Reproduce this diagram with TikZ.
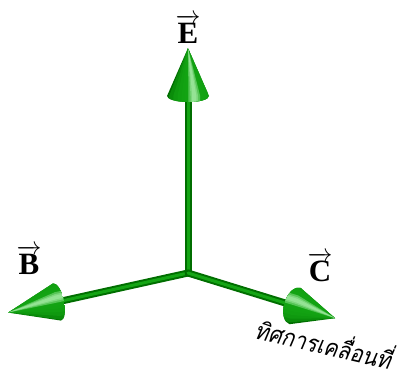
\documentclass[tikz,border=0pt]{standalone}
\usepackage{amsmath}
\usepackage{fontspec}
\setmainfont{Liberation Serif}
\newfontfamily\thaifont[Script=Thai,FakeSlant=0.2]{Loma}
\usetikzlibrary{calc}
\definecolor{FieldGreen}{RGB}{20,165,20}
\definecolor{FieldGreenDark}{RGB}{0,110,0}
\definecolor{FieldGreenLight}{RGB}{185,245,185}

% cone head: base point, angle, length, radius, flat radius, highlight offset
\newcommand{\conehead}[6]{%
 \begin{scope}[shift={#1},rotate=#2]
  \clip (0,-#4) -- (#3,0) -- (0,#4)
   arc[start angle=90,end angle=270,x radius=#5,y radius=#4] -- cycle;
  \fill[FieldGreenDark] (-#5,-#4) rectangle (#3,#4);
  \foreach \w in {1.2,1.0,0.8,0.6,0.45,0.35}
   \fill[FieldGreen,opacity=0.55] (-#5,{(#6-\w)*#4}) -- (0,{(#6-\w)*#4}) -- (#3,0)
    -- (0,{(#6+\w)*#4}) -- (-#5,{(#6+\w)*#4}) -- cycle;
  \foreach \w in {0.28,0.18,0.1}
   \fill[FieldGreenLight,opacity=0.4] (-#5,{(#6-\w)*#4}) -- (0,{(#6-\w)*#4}) -- (#3,0)
    -- (0,{(#6+\w)*#4}) -- (-#5,{(#6+\w)*#4}) -- cycle;
 \end{scope}}

\begin{document}
\begin{tikzpicture}[x=1pt,y=-1pt,
 shaft/.style={line width=2pt,draw=FieldGreenDark,double=FieldGreen,
  double distance=3pt,line cap=round},
 vlabel/.style={font=\fontsize{31}{31}\selectfont\bfseries,inner sep=0pt}]
\useasboundingbox (0,0) rectangle (403,376);
\coordinate (O) at (188,273);
\coordinate (Ebase) at (188,96);
\coordinate (Bbase) at (57,302);
\coordinate (Cbase) at (295,306);
\draw[shaft] (O) -- (Ebase);
\draw[shaft] (O) -- (Bbase);
\draw[shaft] (O) -- (Cbase);
\conehead{(Ebase)}{90}{48}{21}{6}{0.3}
\conehead{(Bbase)}{-167.8}{50}{19}{7}{0.25}
\conehead{(Cbase)}{-16.9}{42}{19}{11}{-0.3}
\node[vlabel] (labE) at (188,29) {$\overrightarrow{\textbf{E}}$};
\node[vlabel] (labB) at (29,260) {$\overrightarrow{\textbf{B}}$};
\node[vlabel] (labC) at (320,267) {$\overrightarrow{\textbf{C}}$};
\node[font=\thaifont\fontsize{24}{24}\selectfont,rotate=-13,xscale=0.88,inner sep=0pt]
 (motion) at (324,342) {ทิศการเคลื่อนที่};
\end{tikzpicture}
\end{document}
